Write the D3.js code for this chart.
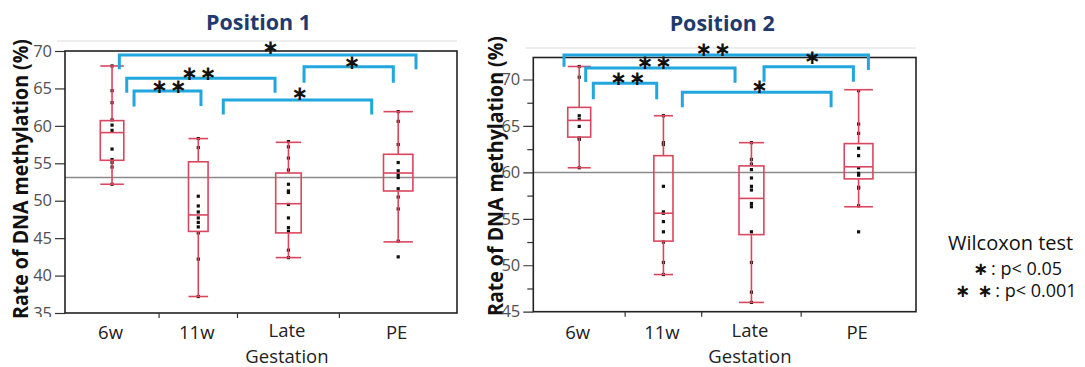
<!DOCTYPE html>
<html><head><meta charset="utf-8">
<script src="https://cdn.jsdelivr.net/npm/d3@7"></script>
<style>body{margin:0;background:#fff}svg{display:block}</style>
</head><body>
<svg id="chart" width="1085" height="367"></svg>
<script>
// ---------- data ----------
const categories = ["6w", "11w", "Late Gestation", "PE"];
const groupSizes = [12, 10, 13, 15];
const titles = ["Position 1", "Position 2"];
const yLabel = "Rate of DNA methylation (%)";
const yTicks1 = [35, 40, 45, 50, 55, 60, 65, 70];
const yTicks2 = [45, 50, 55, 60, 65, 70];
const yMinor2 = [47.5, 52.5, 57.5, 62.5, 67.5];

// Position 1
const p1WhiskerLow  = [52.2, 37.2, 42.4, 44.5];
const p1Q1          = [55.4, 45.9, 45.7, 51.3];
const p1Median      = [59.1, 48.1, 49.6, 53.7];
const p1Q3          = [60.7, 55.2, 53.7, 56.2];
const p1WhiskerHigh = [68.0, 58.3, 57.8, 61.9];
const p1Points = [
  [68.0, 64.7, 63.1, 60.8, 60.1, 59.4, 56.9, 55.5, 55.1, 54.5, 52.2],
  [58.3, 57.1, 50.6, 49.3, 48.5, 47.7, 47.1, 46.5, 45.7, 42.2, 37.2],
  [57.9, 57.2, 55.7, 54.1, 52.2, 51.3, 51.1, 49.5, 47.7, 46.4, 45.9, 43.4, 42.4],
  [61.9, 60.6, 57.5, 55.1, 54.0, 53.5, 53.1, 51.6, 50.5, 48.9, 44.6, 42.5]
];
const p1RefLine = 53.1;
const p1Comparisons = [[0, 3, "∗"], [0, 2, "∗ ∗"], [0, 1, "∗ ∗"], [1, 3, "∗"], [2, 3, "∗"]];

// Position 2
const p2WhiskerLow  = [60.5, 49.0, 46.0, 56.3];
const p2Q1          = [63.8, 52.6, 53.3, 59.3];
const p2Median      = [65.6, 55.6, 57.2, 60.6];
const p2Q3          = [67.0, 61.8, 60.7, 63.1];
const p2WhiskerHigh = [71.4, 66.1, 63.2, 68.9];
const p2Points = [
  [71.4, 70.25, 66.1, 65.7, 64.95, 63.7, 63.55, 60.5],
  [66.1, 63.2, 63.0, 58.5, 55.75, 55.6, 54.7, 53.6, 52.5, 50.3, 49.0],
  [63.2, 61.4, 60.9, 60.3, 59.4, 58.5, 58.1, 56.65, 56.3, 53.6, 50.3, 47.1, 46.0],
  [68.8, 65.2, 64.2, 62.6, 61.8, 60.5, 59.9, 59.7, 58.4, 58.3, 56.4, 53.6]
];
const p2RefLine = 60;
const p2Comparisons = [[0, 3, "∗ ∗"], [0, 2, "∗ ∗"], [0, 1, "∗ ∗"], [1, 3, "∗"], [2, 3, "∗"]];

const legendTitle = "Wilcoxon test";
const legendItems = [["∗", ": p< 0.05"], ["∗ ∗", ": p< 0.001"]];

// ---------- styles / layout ----------
const BOX = "#d9475f", BLUE = "#21a6de", NAVY = "#1f3a6e";
const SANS = "'Open Sans', 'Noto Sans', sans-serif";
const STARF = "'DejaVu Sans', sans-serif";

const svg = d3.select("#chart");

const panels = [
  { left: 65, right: 457, top: 51, bottom: 313, domain: [35, 70], ticks: yTicks1, minor: [],
    wl: p1WhiskerLow, q1: p1Q1, med: p1Median, q3: p1Q3, wh: p1WhiskerHigh, pts: p1Points,
    ref: p1RefLine, comps: p1Comparisons, title: titles[0], titleY: 30, ylabX: 27.5, ylabY: 179, topLineY: 41,
    clipBottom: 317,
    br: [ {y: 55, o1: 7.3, o2: 17.8, d1: 14.3, d2: 14.3, lx: 3, ly: -8},
          {y: 78.3, o1: 14.7, o2: -13.4, d1: 14.4, d2: 14.4, lx: -2, ly: -5},
          {y: 91, o1: 22, o2: 2.7, d1: 15.5, d2: 15, lx: 1.5, ly: -5},
          {y: 100, o1: 25, o2: -26.5, d1: 14.5, d2: 14.5, lx: 2.5, ly: -7.5},
          {y: 66.7, o1: 15.6, o2: -4.9, d1: 16, d2: 16, lx: 3.5, ly: -5} ] },
  { left: 533.3, right: 916, top: 57.5, bottom: 311.7, domain: [45, 72.37], ticks: yTicks2, minor: yMinor2,
    wl: p2WhiskerLow, q1: p2Q1, med: p2Median, q3: p2Q3, wh: p2WhiskerHigh, pts: p2Points,
    ref: p2RefLine, comps: p2Comparisons, title: titles[1], titleY: 31, ylabX: 503, ylabY: 176, topLineY: 48,
    clipBottom: 330,
    br: [ {y: 55, o1: -15.2, o2: 9.8, d1: 11.7, d2: 15, lx: -3, ly: -6},
          {y: 68, o1: 6.5, o2: -16.4, d1: 14, d2: 14.7, lx: -6, ly: -6.3},
          {y: 83.3, o1: 14.1, o2: -6.7, d1: 16, d2: 16, lx: 3, ly: -5},
          {y: 92.3, o1: 18.9, o2: -27.5, d1: 15, d2: 15, lx: 3, ly: -6.3},
          {y: 66.7, o1: 12.6, o2: -5.2, d1: 15, d2: 15, lx: 3.6, ly: -10} ] }
];

function drawStars(g, label, cx, cy) {
  const parts = label.split(" ");
  const gap = 18.6;
  parts.forEach((s, i) => {
    const x = cx + (i - (parts.length - 1) / 2) * gap;
    g.append("text").attr("x", x).attr("y", cy + 7)
      .attr("text-anchor", "middle").attr("font-family", STARF)
      .attr("font-size", 20).attr("font-weight", "bold").attr("fill", "#111").text(s);
  });
}

panels.forEach((P, pi) => {
  const g = svg.append("g");
  const y = d3.scaleLinear().domain(P.domain).range([P.bottom, P.top]);
  const total = d3.sum(groupSizes);
  const xs = d3.scaleLinear().domain([0, total]).range([P.left, P.right]);
  const cum = [0]; groupSizes.forEach((n, i) => cum.push(cum[i] + n));
  const bands = categories.map((c, i) => ({ x0: xs(cum[i]), x1: xs(cum[i + 1]) }));
  bands.forEach(b => { b.c = (b.x0 + b.x1) / 2; b.w = b.x1 - b.x0; });

  // light top line
  g.append("line").attr("x1", P.left - 8).attr("x2", P.right).attr("y1", P.topLineY).attr("y2", P.topLineY)
    .attr("stroke", "#dcdcdc").attr("stroke-width", 1);

  // title
  g.append("text").attr("x", (P.left + P.right) / 2 - 2.5).attr("y", P.titleY)
    .attr("text-anchor", "middle").attr("font-family", SANS).attr("font-weight", "bold")
    .attr("font-size", 21).attr("textLength", 105).attr("lengthAdjust", "spacingAndGlyphs")
    .attr("fill", NAVY).text(P.title);

  // y label
  g.append("text").attr("transform", `translate(${P.ylabX},${P.ylabY}) rotate(-90)`)
    .attr("text-anchor", "middle").attr("font-family", SANS).attr("font-weight", "bold")
    .attr("font-size", 21).attr("textLength", 280).attr("lengthAdjust", "spacingAndGlyphs")
    .attr("fill", "#111").text(yLabel);

  // reference line
  g.append("line").attr("x1", P.left).attr("x2", P.right).attr("y1", y(P.ref)).attr("y2", y(P.ref))
    .attr("stroke", "#8a8a8a").attr("stroke-width", 1.5);

  // y axis
  const clipId = "clip" + pi;
  svg.append("clipPath").attr("id", clipId).append("rect")
    .attr("x", -200).attr("y", 0).attr("width", 400).attr("height", P.clipBottom);
  const ax = g.append("g").attr("transform", `translate(${P.left},0)`).attr("clip-path", `url(#${clipId})`)
    .call(d3.axisLeft(y).tickValues(P.ticks).tickSize(10).tickPadding(3).tickFormat(d3.format("d")));
  ax.select(".domain").remove();
  ax.selectAll("line").attr("stroke", "#333").attr("stroke-width", 1.2);
  ax.selectAll("text").attr("font-family", SANS).attr("font-size", 16.5).attr("fill", "#505050");
  if (P.minor.length) {
    const mx = g.append("g").attr("transform", `translate(${P.left},0)`)
      .call(d3.axisLeft(y).tickValues(P.minor).tickSize(6).tickFormat(""));
    mx.select(".domain").remove();
    mx.selectAll("line").attr("stroke", "#333").attr("stroke-width", 1.2);
  }

  // frame
  g.append("rect").attr("x", P.left).attr("y", P.top).attr("width", P.right - P.left).attr("height", P.bottom - P.top)
    .attr("fill", "none").attr("stroke", "#222").attr("stroke-width", 1.6);

  // x ticks at band boundaries
  bands.slice(1).forEach(b => {
    g.append("line").attr("x1", b.x0).attr("x2", b.x0).attr("y1", P.bottom).attr("y2", P.bottom + 5)
      .attr("stroke", "#333").attr("stroke-width", 1.2);
  });

  // x labels (multi-word labels wrap onto a second line)
  categories.forEach((c, i) => {
    const words = c.split(" ");
    const t = g.append("text").attr("x", bands[i].c - 1.5).attr("y", words.length > 1 ? 337 : 339)
      .attr("text-anchor", "middle").attr("font-family", SANS).attr("font-size", 18.5)
      .attr("fill", "#222");
    words.forEach((w, k) => {
      t.append("tspan").attr("x", bands[i].c - 1.5).attr("dy", k === 0 ? 0 : 25.5).text(w);
    });
  });

  // boxes
  categories.forEach((c, i) => {
    const cx = bands[i].c, bw = bands[i].w * 0.25;
    const bx = g.append("g");
    P.pts[i].forEach(v => {
      bx.append("rect").attr("x", cx - 1.6).attr("y", y(v) - 1.6).attr("width", 3.2).attr("height", 3.2).attr("fill", "#111");
    });
    const ln = (x1, y1, x2, y2) => bx.append("line").attr("x1", x1).attr("y1", y1).attr("x2", x2).attr("y2", y2)
      .attr("stroke", BOX).attr("stroke-width", 1.6);
    bx.append("rect").attr("x", cx - bw / 2).attr("y", y(P.q3[i])).attr("width", bw)
      .attr("height", y(P.q1[i]) - y(P.q3[i]))
      .attr("fill", "none").attr("stroke", BOX).attr("stroke-width", 1.6);
    ln(cx - bw / 2, y(P.med[i]), cx + bw / 2, y(P.med[i]));
    ln(cx, y(P.q3[i]), cx, y(P.wh[i]));
    ln(cx, y(P.q1[i]), cx, y(P.wl[i]));
    ln(cx - bw / 2, y(P.wh[i]), cx + bw / 2, y(P.wh[i]));
    ln(cx - bw / 2, y(P.wl[i]), cx + bw / 2, y(P.wl[i]));
  });

  // brackets
  P.comps.forEach((cmp, k) => {
    const L = P.br[k];
    const x1 = bands[cmp[0]].c + L.o1, x2 = bands[cmp[1]].c + L.o2;
    g.append("path").attr("d", `M${x1},${L.y + L.d1}V${L.y}H${x2}V${L.y + L.d2}`)
      .attr("fill", "none").attr("stroke", BLUE).attr("stroke-width", 3);
  });
  P.comps.forEach((cmp, k) => {
    const L = P.br[k];
    const x1 = bands[cmp[0]].c + L.o1, x2 = bands[cmp[1]].c + L.o2;
    drawStars(g, cmp[2], (x1 + x2) / 2 + L.lx, L.y + L.ly);
  });
});

// legend
const lg = svg.append("g");
lg.append("text").attr("x", 948).attr("y", 249.5).attr("font-family", SANS).attr("font-size", 20)
  .attr("fill", "#111").text(legendTitle);
const legendX = [973, 955];
const legendY = [274.5, 297];
legendItems.forEach((it, i) => {
  const t = lg.append("text").attr("x", legendX[i]).attr("y", legendY[i]).attr("fill", "#111");
  t.append("tspan").attr("font-family", STARF).attr("font-weight", "bold").attr("font-size", 18)
    .text(it[0].replace(" ", "\u2009\u2009"));
  t.append("tspan").attr("font-family", SANS).attr("font-size", 18).attr("dx", 3).text(it[1]);
});
</script>
</body></html>
